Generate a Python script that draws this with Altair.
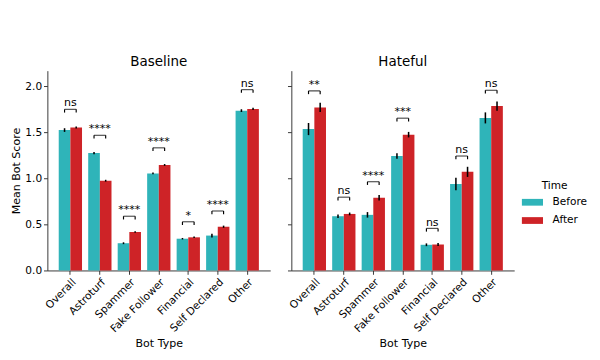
import altair as alt
import pandas as pd

categories = ["Overall", "Astroturf", "Spammer", "Fake Follower", "Financial", "Self Declared", "Other"]
times = ["Before", "After"]

baseline_before = [1.525, 1.275, 0.296, 1.054, 0.345, 0.379, 1.736]
baseline_after = [1.553, 0.975, 0.418, 1.146, 0.360, 0.475, 1.754]
baseline_before_err = [0.020, 0.012, 0.010, 0.010, 0.008, 0.020, 0.015]
baseline_after_err = [0.012, 0.010, 0.008, 0.010, 0.008, 0.012, 0.012]

hateful_before = [1.536, 0.589, 0.604, 1.243, 0.279, 0.939, 1.657]
hateful_after = [1.771, 0.614, 0.789, 1.475, 0.282, 1.071, 1.786]
hateful_before_err = [0.066, 0.020, 0.030, 0.030, 0.015, 0.068, 0.060]
hateful_after_err = [0.050, 0.015, 0.030, 0.030, 0.015, 0.055, 0.050]

baseline_sig = ["ns", "****", "****", "****", "*", "****", "ns"]
hateful_sig = ["**", "ns", "****", "***", "ns", "ns", "ns"]
baseline_bracket = [1.75, 1.468, 0.589, 1.332, 0.529, 0.646, 1.964]
hateful_bracket = [1.95, 0.796, 0.964, 1.654, 0.457, 1.243, 1.957]

TEAL = "#2fb4b9"
RED = "#ce2327"
FONT = "DejaVu Sans"


def bar_df(before, after, before_err, after_err):
    rows = []
    for i, c in enumerate(categories):
        rows.append({"Bot Type": c, "Time": "Before", "Mean": before[i], "Err": before_err[i]})
        rows.append({"Bot Type": c, "Time": "After", "Mean": after[i], "Err": after_err[i]})
    return pd.DataFrame(rows)


def ann_df(sig, bracket):
    rows = []
    for i, c in enumerate(categories):
        for t in times:
            rows.append({"Bot Type": c, "Time": t, "Label": sig[i], "Bracket": bracket[i]})
    return pd.DataFrame(rows)


def panel(before, after, before_err, after_err, sig, bracket, title, first):
    df = bar_df(before, after, before_err, after_err)
    ann = ann_df(sig, bracket)

    yaxis_kw = dict(values=[0, 0.5, 1.0, 1.5, 2.0], format=".1f", labels=first, tickSize=4)
    if first:
        yaxis_kw["title"] = "Mean Bot Score"
    else:
        yaxis_kw["title"] = None
    yscale = alt.Scale(domain=[0, 2.17], nice=False, zero=True)

    x = alt.X("Bot Type:N", sort=categories,
              scale=alt.Scale(paddingInner=0.21, paddingOuter=0.385),
              axis=alt.Axis(labelAngle=-45, labelAlign="right", labelBaseline="top",
                            tickSize=4, title="Bot Type"))
    xo = alt.XOffset("Time:N", sort=times, scale=alt.Scale(paddingInner=0, paddingOuter=0))

    bars = alt.Chart(df).mark_bar().encode(
        x=x,
        xOffset=xo,
        y=alt.Y("Mean:Q", scale=yscale, axis=alt.Axis(**yaxis_kw)),
        color=alt.Color("Time:N", sort=times,
                        scale=alt.Scale(domain=times, range=[TEAL, RED]),
                        legend=alt.Legend(title="Time", orient="none", legendX=494, legendY=114,
                                          symbolType="M-1,-0.32h2v0.64h-2z", symbolSize=484,
                                          symbolStrokeWidth=0, titleAnchor="middle",
                                          titlePadding=1, rowPadding=3, labelOffset=10)),
    )
    errs = alt.Chart(df).mark_rule(color="black", strokeWidth=1.6).transform_calculate(
        lo="datum.Mean - datum.Err", hi="datum.Mean + datum.Err"
    ).encode(
        x=alt.X("Bot Type:N", sort=categories),
        xOffset=alt.XOffset("Time:N", sort=times),
        y=alt.Y("lo:Q", scale=yscale),
        y2="hi:Q",
    )
    ann_one = alt.Chart(ann).transform_filter(alt.datum.Time == "Before")
    hline = ann_one.mark_tick(color="black", thickness=1.2, size=12.2, orient="horizontal").encode(
        x=alt.X("Bot Type:N", sort=categories),
        y=alt.Y("Bracket:Q", scale=yscale),
    )
    vlines = alt.Chart(ann).mark_rule(color="black", strokeWidth=1.2).transform_calculate(
        low="datum.Bracket - 0.035"
    ).encode(
        x=alt.X("Bot Type:N", sort=categories),
        xOffset=alt.XOffset("Time:N", sort=times),
        y=alt.Y("Bracket:Q", scale=yscale),
        y2="low:Q",
    )
    text = ann_one.mark_text(font=FONT, fontSize=11.5, baseline="alphabetic", dy=-3, color="black").encode(
        x=alt.X("Bot Type:N", sort=categories),
        y=alt.Y("Bracket:Q", scale=yscale),
        text="Label:N",
    )
    return alt.layer(bars, errs, hline, vlines, text).properties(
        width=232, height=208,
        title=alt.Title(title, fontSize=14, fontWeight="normal", font=FONT, offset=2, color="black"),
    )


left = panel(baseline_before, baseline_after, baseline_before_err, baseline_after_err,
             baseline_sig, baseline_bracket, "Baseline", True)
right = panel(hateful_before, hateful_after, hateful_before_err, hateful_after_err,
              hateful_sig, hateful_bracket, "Hateful", False)

chart = alt.hconcat(left, right, spacing=17).properties(
    padding={"left": 2, "top": 42, "right": 5, "bottom": 5}
).configure_view(stroke=None).configure_axis(
    labelFont=FONT, titleFont=FONT, labelFontSize=11, titleFontSize=11.5,
    labelColor="black", titleColor="black", titleFontWeight="normal",
    domainColor="#333", tickColor="#333", grid=False, labelPadding=2, titlePadding=4,
).configure_legend(
    labelFont=FONT, titleFont=FONT, labelFontSize=11, titleFontSize=11,
    titleFontWeight="normal", labelColor="black", titleColor="black",
)

chart.save("out.html", embed_options={"renderer": "svg", "actions": False})
